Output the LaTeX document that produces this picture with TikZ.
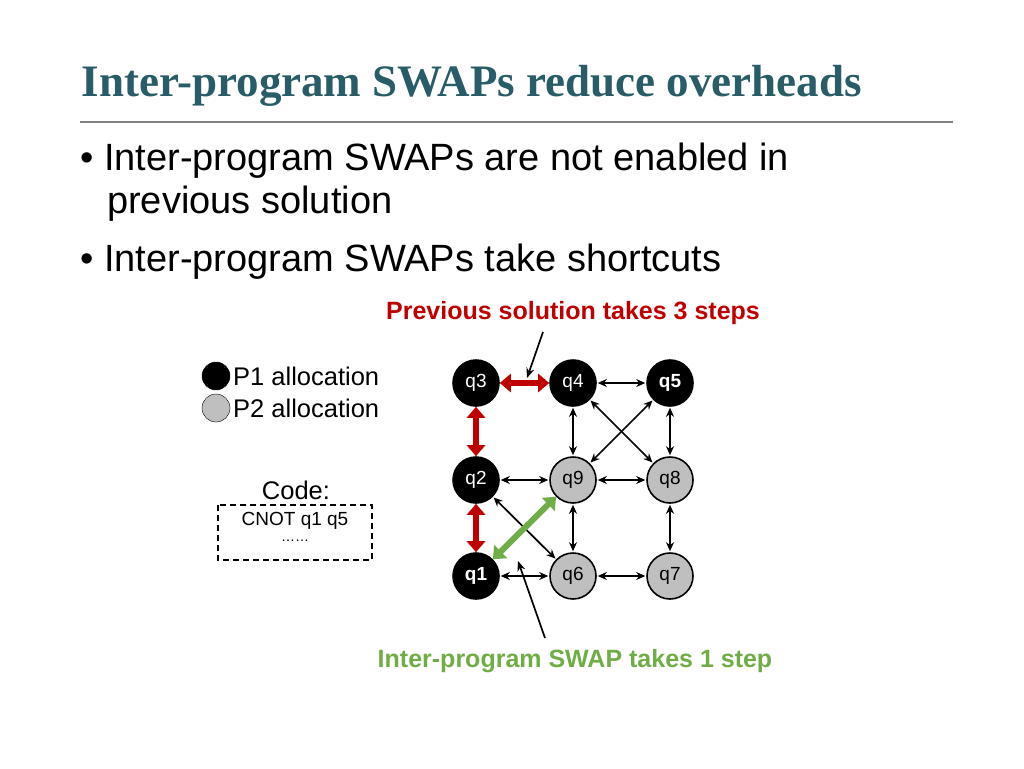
\documentclass[tikz,border=0pt]{standalone}
\usepackage{fontspec}
\setmainfont{Liberation Sans}
\newfontfamily\serifb{Liberation Serif}
\usetikzlibrary{arrows.meta}
\definecolor{teal2}{RGB}{40,92,102}
\definecolor{red2}{RGB}{192,0,0}
\definecolor{green2}{RGB}{112,173,71}
\begin{document}
\begin{tikzpicture}[x=1pt,y=-1pt,
 q/.style={circle,draw,line width=1.6pt,minimum size=46pt,inner sep=0pt,font=\fontsize{19}{21}\selectfont},
 p1/.style={q,fill=black,text=white},
 p2/.style={q,fill=gray!50!white},
 lk/.style={{Stealth[length=9pt,width=8pt]}-{Stealth[length=9pt,width=8pt]},line width=1.7pt,shorten <=1pt,shorten >=1pt},
 rd/.style={{Triangle[length=11pt,width=18pt]}-{Triangle[length=11pt,width=18pt]},line width=6pt,red2},
 gr/.style={{Triangle[length=11pt,width=18pt]}-{Triangle[length=11pt,width=18pt]},line width=6pt,green2},
 bul/.style={anchor=base west,inner sep=0pt,font=\fontsize{38}{44}\selectfont},
 ptr/.style={-{Stealth[length=10pt,width=8pt]},line width=1.7pt}]
\useasboundingbox (0,0) rectangle (1024,768);
\node[anchor=west,text=teal2,font=\serifb\bfseries\fontsize{45}{50}\selectfont] (title) at (78,86) {Inter-program SWAPs reduce overheads};
\draw[gray,line width=2pt] (80,122) -- (953,122);
\node[bul] (b1) at (80,170) {\textbullet\ Inter-program SWAPs are not enabled in};
\node[bul] (b2) at (107,213) {previous solution};
\node[bul] (b3) at (80,271) {\textbullet\ Inter-program SWAPs take shortcuts};
\node[p1] (q3) at (476,383) {q3};
\node[p1] (q4) at (573,383) {q4};
\node[p1] (q5) at (670,383) {\textbf{q5}};
\node[p1] (q2) at (476,480) {q2};
\node[p2] (q9) at (573,480) {q9};
\node[p2] (q8) at (670,480) {q8};
\node[p1] (q1) at (476,576) {\textbf{q1}};
\node[p2] (q6) at (573,576) {q6};
\node[p2] (q7) at (670,576) {q7};
\foreach \a/\b in {q4/q5,q4/q9,q5/q8,q4/q8,q5/q9,q2/q9,q9/q8,q9/q6,q8/q7,q2/q6,q1/q6,q6/q7}
  \draw[lk] (\a) -- (\b);
\draw[rd] (q3) -- (q4);
\draw[rd] (q3) -- (q2);
\draw[rd] (q2) -- (q1);
\draw[gr] (q1) -- (q9);
\node[text=red2,font=\bfseries\fontsize{25}{28}\selectfont] (lr) at (573,313) {Previous solution takes 3 steps};
\node[text=green2,font=\bfseries\fontsize{25}{28}\selectfont] (lg) at (575,661) {Inter-program SWAP takes 1 step};
\coordinate (pa) at (543,332); \coordinate (pb) at (527,378);
\coordinate (pc) at (545,638); \coordinate (pd) at (518,561);
\draw[ptr] (pa) -- (pb);
\draw[ptr] (pc) -- (pd);
\node[circle,draw,fill=black,minimum size=28pt,inner sep=0pt] (l1) at (216,376) {};
\node[circle,draw,fill=gray!50!white,minimum size=28pt,inner sep=0pt] (l2) at (216,408) {};
\node[anchor=west,inner sep=0pt,font=\fontsize{25.5}{28}\selectfont] (t1) at (233,376) {P1 allocation};
\node[anchor=west,inner sep=0pt,font=\fontsize{25.5}{28}\selectfont] (t2) at (233,408) {P2 allocation};
\node[font=\fontsize{25.5}{28}\selectfont,inner sep=0pt] (code) at (296,490) {Code:};
\draw[dash pattern=on 6pt off 4pt,line width=1.3pt] (218,505) rectangle (372,560);
\node[font=\fontsize{19}{21}\selectfont,inner sep=0pt] (cn) at (295,521) {CNOT q1 q5};
\node[font=\fontsize{14}{16}\selectfont,inner sep=0pt] (dots) at (295,541) {\dots\dots};
\end{tikzpicture}
\end{document}
